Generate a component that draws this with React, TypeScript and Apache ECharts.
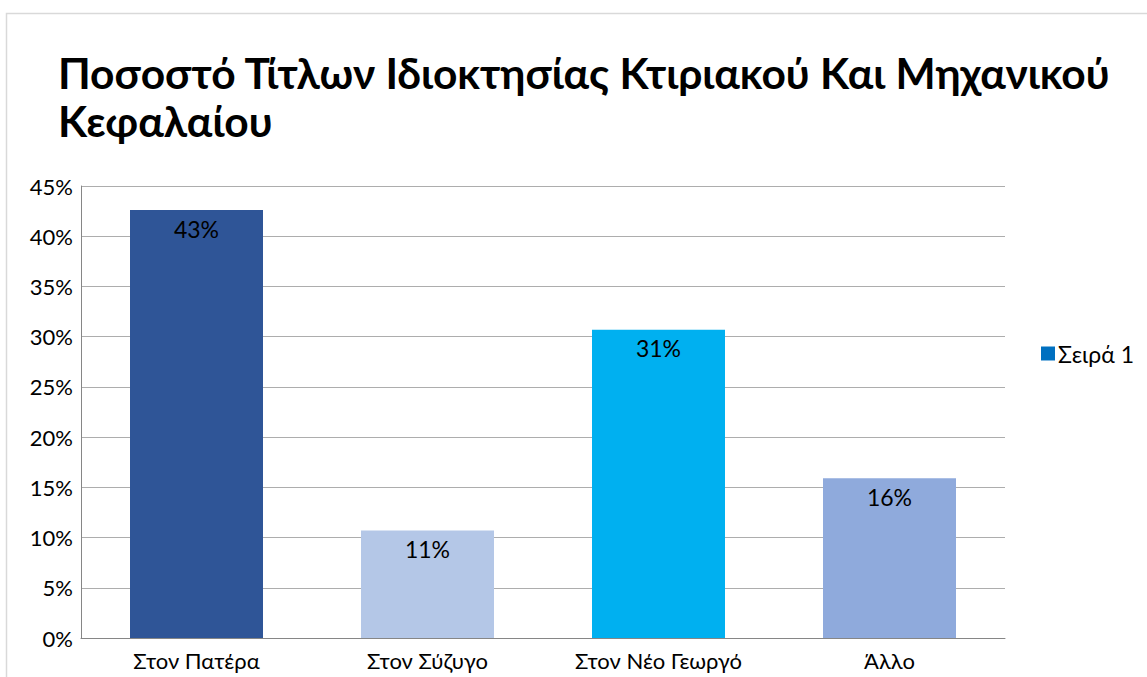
import React, { useEffect, useRef } from "react";
import * as echarts from "echarts";

const titleText = "Ποσοστό Τίτλων Ιδιοκτησίας Κτιριακού Και Μηχανικού\nΚεφαλαίου";
const categories = ["Στον Πατέρα", "Στον Σύζυγο", "Στον Νέο Γεωργό", "Άλλο"];
const values = [42.6, 10.7, 30.7, 15.9];
const barColors = ["#2F5597", "#B4C7E7", "#00B0F0", "#8FAADC"];
const seriesName = "Σειρά 1";

export default function App() {
  const ref = useRef<HTMLDivElement>(null);
  useEffect(() => {
    if (!ref.current) return;
    const chart = echarts.init(ref.current, null, { renderer: "svg" });
    const font = "Lato, 'Noto Sans', sans-serif";
    chart.setOption({
      animation: false,
      backgroundColor: "#ffffff",
      textStyle: { fontFamily: font },
      graphic: [
        {
          type: "rect",
          shape: { x: 6.5, y: 13.5, width: 1200, height: 700 },
          style: { fill: "none", stroke: "#d9d9d9", lineWidth: 1.5 },
          silent: true,
        },
      ],
      title: {
        text: titleText,
        left: 53,
        top: 43,
        textStyle: {
          fontFamily: font,
          fontWeight: "bold",
          fontSize: 42.5,
          lineHeight: 48,
          color: "#000000",
        },
      },
      legend: {
        left: 1036,
        top: 337,
        icon: "rect",
        itemWidth: 14,
        itemHeight: 14,
        itemGap: 6,
        data: [{ name: seriesName, itemStyle: { color: "#0070C0" } }],
        textStyle: { fontFamily: font, fontSize: 23, color: "#000000", padding: [0, 0, 0, -2] },
      },
      grid: { left: 81, right: 142, top: 186, bottom: 39, containLabel: false },
      xAxis: {
        type: "category",
        data: categories,
        axisLine: { show: true, lineStyle: { color: "#868686", width: 1 } },
        axisTick: { show: false },
        axisLabel: { fontFamily: font, fontSize: 22, color: "#000000", margin: 11 },
      },
      yAxis: {
        type: "value",
        min: 0,
        max: 45,
        interval: 5,
        axisLine: { show: true, lineStyle: { color: "#868686", width: 1 } },
        axisTick: { show: false },
        splitLine: { show: true, lineStyle: { color: "#adadad", width: 1 } },
        axisLabel: {
          fontFamily: font,
          fontSize: 22,
          color: "#000000",
          margin: 8,
          formatter: "{value}%",
        },
      },
      series: [
        {
          name: seriesName,
          type: "bar",
          barWidth: 133,
          itemStyle: { color: "#0070C0" },
          data: values.map((v, i) => ({ value: v, itemStyle: { color: barColors[i] } })),
          label: {
            show: true,
            position: "insideTop",
            distance: 7,
            fontFamily: font,
            fontSize: 23,
            color: "#000000",
            formatter: (p: any) => Math.round(p.value) + "%",
          },
        },
      ],
    });
    return () => chart.dispose();
  }, []);
  return (
    <div
      ref={ref}
      style={{ position: "fixed", left: 0, top: 0, width: 1147, height: 677, background: "#fff" }}
    />
  );
}
